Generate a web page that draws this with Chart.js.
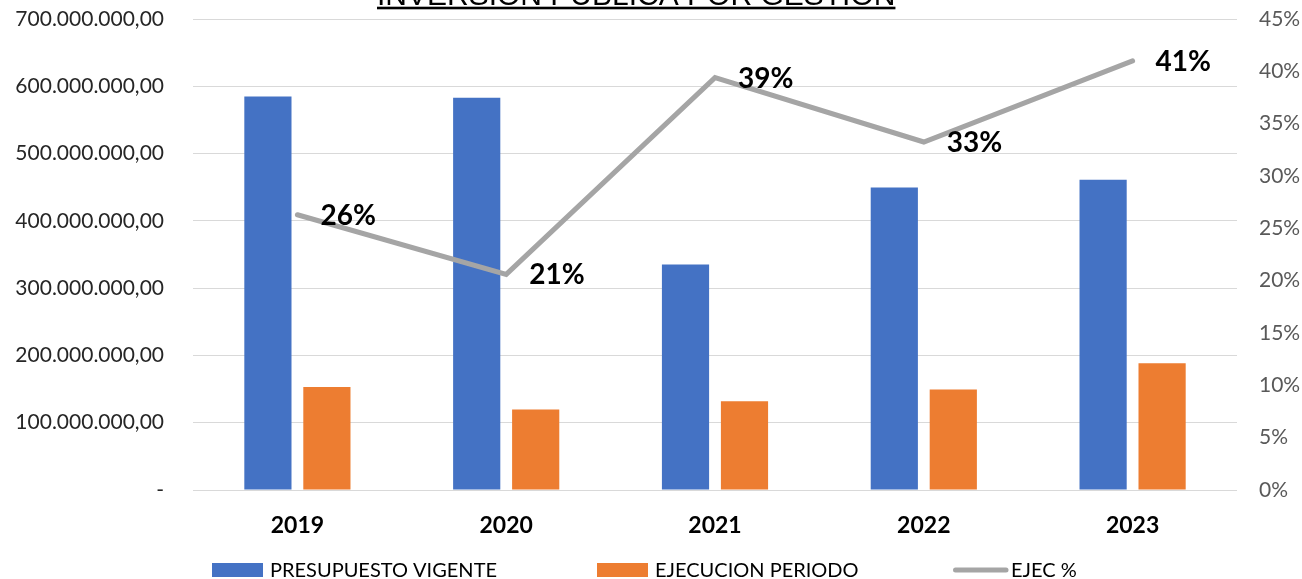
<!DOCTYPE html>
<html>
<head>
<meta charset="utf-8">
<script src="https://cdn.jsdelivr.net/npm/chart.js@4.4.0/dist/chart.umd.min.js"></script>
<style>
html,body{margin:0;padding:0;background:#fff;}
canvas{display:block;}
</style>
</head>
<body>
<canvas id="c" width="1302" height="579"></canvas>
<script>
const titleText = 'INVERSIÓN PÚBLICA POR GESTIÓN';
const categories = ['2019', '2020', '2021', '2022', '2023'];
const presupuestoVigente = [585000000, 583000000, 335000000, 449500000, 461000000];
const ejecucionPeriodo = [153000000, 119500000, 132000000, 149500000, 188500000];
const ejecPct = [0.263, 0.206, 0.394, 0.3325, 0.41];
const seriesLabels = ['PRESUPUESTO VIGENTE', 'EJECUCION PERIODO', 'EJEC %'];
const leftMax = 700000000, leftStep = 100000000;
const rightMax = 0.45, rightStep = 0.05;

const COLORS = ['#4472C4', '#ED7D31', '#A5A5A5'];
const FONT = 'Lato';

function fmtMoney(v) {
  if (v === 0) return '-';
  const s = Math.round(v).toString().replace(/\B(?=(\d{3})+(?!\d))/g, '.');
  return s + ',00';
}

const titlePlugin = {
  id: 'titleCut',
  afterDraw(chart) {
    const ctx = chart.ctx;
    ctx.save();
    ctx.font = '30px "Liberation Sans"';
    ctx.fillStyle = '#000';
    ctx.textBaseline = 'alphabetic';
    ctx.textAlign = 'left';
    const x = 377;
    ctx.fillText(titleText, x, 4.5);
    const w = ctx.measureText(titleText).width;
    ctx.fillRect(x, 6.7, w, 2.6);
    ctx.restore();
  }
};

const pctLabelPlugin = {
  id: 'pctLabels',
  afterDatasetsDraw(chart) {
    const ctx = chart.ctx;
    const meta = chart.getDatasetMeta(2);
    const data = chart.data.datasets[2].data;
    ctx.save();
    ctx.font = 'bold 28px ' + FONT;
    ctx.fillStyle = '#000';
    ctx.textBaseline = 'middle';
    ctx.textAlign = 'left';
    meta.data.forEach((el, i) => {
      ctx.fillText(Math.round(data[i] * 100) + '%', el.x + 23, el.y + 1);
    });
    ctx.restore();
  }
};

const legendPlugin = {
  id: 'customLegend',
  afterDraw(chart) {
    const ctx = chart.ctx;
    ctx.save();
    ctx.font = '20px ' + FONT;
    ctx.fillStyle = '#000';
    ctx.textBaseline = 'alphabetic';
    ctx.textAlign = 'left';
    const starts = [212, 597, 953];
    chart.data.datasets.forEach((ds, i) => {
      const x = starts[i];
      if (ds.type === 'line') {
        ctx.strokeStyle = ds.borderColor;
        ctx.lineWidth = 5;
        ctx.lineCap = 'round';
        ctx.beginPath();
        ctx.moveTo(x + 2.5, 570);
        ctx.lineTo(x + 53, 570);
        ctx.stroke();
        ctx.fillStyle = '#000';
        ctx.fillText(ds.label, x + 58, 577);
      } else {
        ctx.fillStyle = ds.backgroundColor;
        ctx.fillRect(x, 563, 51, 14);
        ctx.fillStyle = '#000';
        ctx.fillText(ds.label, x + 58, 577);
      }
    });
    ctx.restore();
  }
};

function fitVertical(width) {
  return function (s) {
    s.width = width;
    s.paddingTop = 0;
    s.paddingBottom = 0;
  };
}

new Chart(document.getElementById('c'), {
  data: {
    labels: categories,
    datasets: [
      {
        type: 'bar', label: seriesLabels[0], data: presupuestoVigente,
        backgroundColor: COLORS[0], yAxisID: 'y', order: 1,
        categoryPercentage: 0.565, barPercentage: 0.8
      },
      {
        type: 'bar', label: seriesLabels[1], data: ejecucionPeriodo,
        backgroundColor: COLORS[1], yAxisID: 'y', order: 2,
        categoryPercentage: 0.565, barPercentage: 0.8
      },
      {
        type: 'line', label: seriesLabels[2], data: ejecPct,
        borderColor: COLORS[2], backgroundColor: COLORS[2], borderWidth: 5,
        pointRadius: 0, tension: 0, yAxisID: 'y1', order: 0,
        borderCapStyle: 'round', borderJoinStyle: 'miter'
      }
    ]
  },
  options: {
    responsive: false,
    devicePixelRatio: 1,
    animation: false,
    layout: { padding: { top: 19, left: 0, right: 0, bottom: 0 } },
    plugins: { legend: { display: false }, tooltip: { enabled: false }, title: { display: false } },
    scales: {
      x: {
        grid: { display: false, drawTicks: false },
        border: { display: false },
        ticks: { font: { family: FONT, size: 23, weight: 'bold' }, color: '#000', padding: 22 },
        afterFit(s) { s.height = 89; s.paddingLeft = 0; s.paddingRight = 0; }
      },
      y: {
        position: 'left', min: 0, max: leftMax,
        grid: { color: '#D9D9D9', lineWidth: 1, drawTicks: false },
        border: { display: false },
        ticks: { stepSize: leftStep, callback: v => fmtMoney(v), font: { family: FONT, size: 21 }, color: '#262626', padding: 29 },
        afterFit: fitVertical(193)
      },
      y1: {
        position: 'right', min: 0, max: rightMax,
        grid: { display: false, drawTicks: false },
        border: { display: false },
        ticks: { stepSize: rightStep, callback: v => Math.round(v * 100) + '%', font: { family: FONT, size: 21 }, color: '#595959', padding: 22 },
        afterFit: fitVertical(65)
      }
    }
  },
  plugins: [titlePlugin, pctLabelPlugin, legendPlugin]
});
</script>
</body>
</html>
